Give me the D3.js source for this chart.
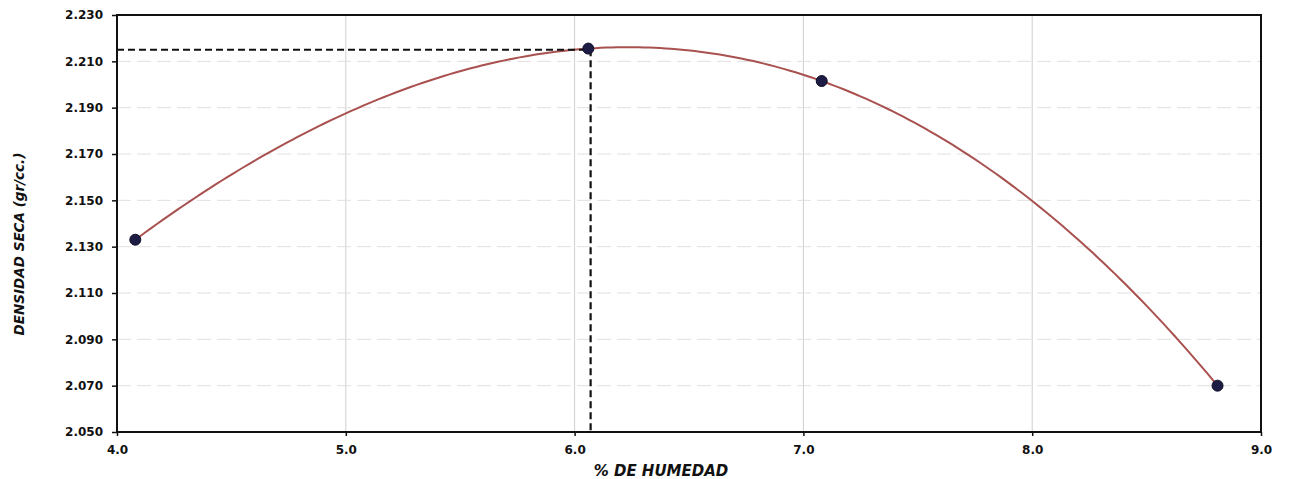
<!DOCTYPE html>
<html>
<head>
<meta charset="utf-8">
<script src="https://cdn.jsdelivr.net/npm/d3@7"></script>
<style>
  html, body { margin: 0; padding: 0; background: #fff; }
  svg { display: block; }
  text { font-family: "DejaVu Sans", "Liberation Sans", Arial, sans-serif; fill: #111; }
</style>
</head>
<body>
<svg id="chart" width="1290" height="479"></svg>
<script>
// Compaction test: moisture content vs. dry density
const humedad = [4.08, 6.06, 7.08, 8.81];
const densidad = [2.133, 2.2155, 2.2015, 2.070];

// Optimum point marked with dashed guide lines
const humedadOptima = [6.07];
const densidadMaxima = [2.215];

const xTicks = [4.0, 5.0, 6.0, 7.0, 8.0, 9.0];
const yTicks = [2.050, 2.070, 2.090, 2.110, 2.130, 2.150, 2.170, 2.190, 2.210, 2.230];

const svg = d3.select("#chart");
const margin = { left: 117, right: 29, top: 15, bottom: 47 };
const W = 1290, H = 479;

const x = d3.scaleLinear().domain([4.0, 9.0]).range([margin.left, W - margin.right]);
const y = d3.scaleLinear().domain([2.050, 2.230]).range([H - margin.bottom, margin.top]);

// gridlines
svg.append("g").selectAll("line.v")
  .data(xTicks.slice(1, -1)).join("line")
  .attr("x1", d => x(d)).attr("x2", d => x(d))
  .attr("y1", y(2.230)).attr("y2", y(2.050))
  .attr("stroke", "#cfcfcf").attr("stroke-width", 1);

svg.append("g").selectAll("line.h")
  .data(yTicks.slice(1, -1)).join("line")
  .attr("x1", x(4.0)).attr("x2", x(9.0))
  .attr("y1", d => y(d)).attr("y2", d => y(d))
  .attr("stroke", "#e0e0e0").attr("stroke-width", 1)
  .attr("stroke-dasharray", "14,6");

// axes
const yAxis = d3.axisLeft(y).tickValues(yTicks).tickFormat(d3.format(".3f")).tickSize(5).tickPadding(9);
const xAxis = d3.axisBottom(x).tickValues(xTicks).tickFormat(d3.format(".1f")).tickSize(4).tickPadding(9);

const gy = svg.append("g").attr("transform", `translate(${x(4.0)},0)`).call(yAxis);
const gx = svg.append("g").attr("transform", `translate(0,${y(2.050)})`).call(xAxis);
[gx, gy].forEach(g => {
  g.select(".domain").remove();
  g.selectAll(".tick line").attr("stroke", "#111").attr("stroke-width", 1.5);
  g.selectAll(".tick text").attr("font-size", 12).attr("font-weight", "bold").attr("fill", "#111");
});

// plot frame
svg.append("rect")
  .attr("x", x(4.0)).attr("y", y(2.230))
  .attr("width", x(9.0) - x(4.0)).attr("height", y(2.050) - y(2.230))
  .attr("fill", "none").attr("stroke", "#111").attr("stroke-width", 2);

// cubic polynomial trend passing through the measured points
function lagrange(xs, ys, t) {
  let s = 0;
  for (let i = 0; i < xs.length; i++) {
    let p = ys[i];
    for (let j = 0; j < xs.length; j++) if (j !== i) p *= (t - xs[j]) / (xs[i] - xs[j]);
    s += p;
  }
  return s;
}
const xMin = d3.min(humedad), xMax = d3.max(humedad);
const curvePts = d3.range(0, 201).map(i => {
  const t = xMin + (xMax - xMin) * i / 200;
  return [t, lagrange(humedad, densidad, t)];
});
svg.append("path")
  .datum(curvePts)
  .attr("d", d3.line().x(d => x(d[0])).y(d => y(d[1])))
  .attr("fill", "none").attr("stroke", "#a8514f").attr("stroke-width", 2);

// dashed guides to the optimum
svg.append("path")
  .attr("d", `M${x(4.0)},${y(densidadMaxima[0])}H${x(humedadOptima[0])}V${y(2.050)}`)
  .attr("fill", "none").attr("stroke", "#111").attr("stroke-width", 2.2)
  .attr("stroke-dasharray", "7,4");

// measured points
svg.append("g").selectAll("circle")
  .data(humedad.map((h, i) => [h, densidad[i]])).join("circle")
  .attr("cx", d => x(d[0])).attr("cy", d => y(d[1])).attr("r", 5.5)
  .attr("fill", "#1c1c45").attr("stroke", "#0c0c25").attr("stroke-width", 1);

// axis titles
svg.append("text")
  .attr("x", 661).attr("y", 476).attr("text-anchor", "middle")
  .attr("font-size", 15).attr("font-weight", "bold").attr("font-style", "italic")
  .text("% DE HUMEDAD");
svg.append("text")
  .attr("transform", "translate(24,244) rotate(-90)")
  .attr("text-anchor", "middle")
  .attr("font-size", 13.5).attr("font-weight", "bold").attr("font-style", "italic")
  .text("DENSIDAD SECA (gr/cc.)");
</script>
</body>
</html>
